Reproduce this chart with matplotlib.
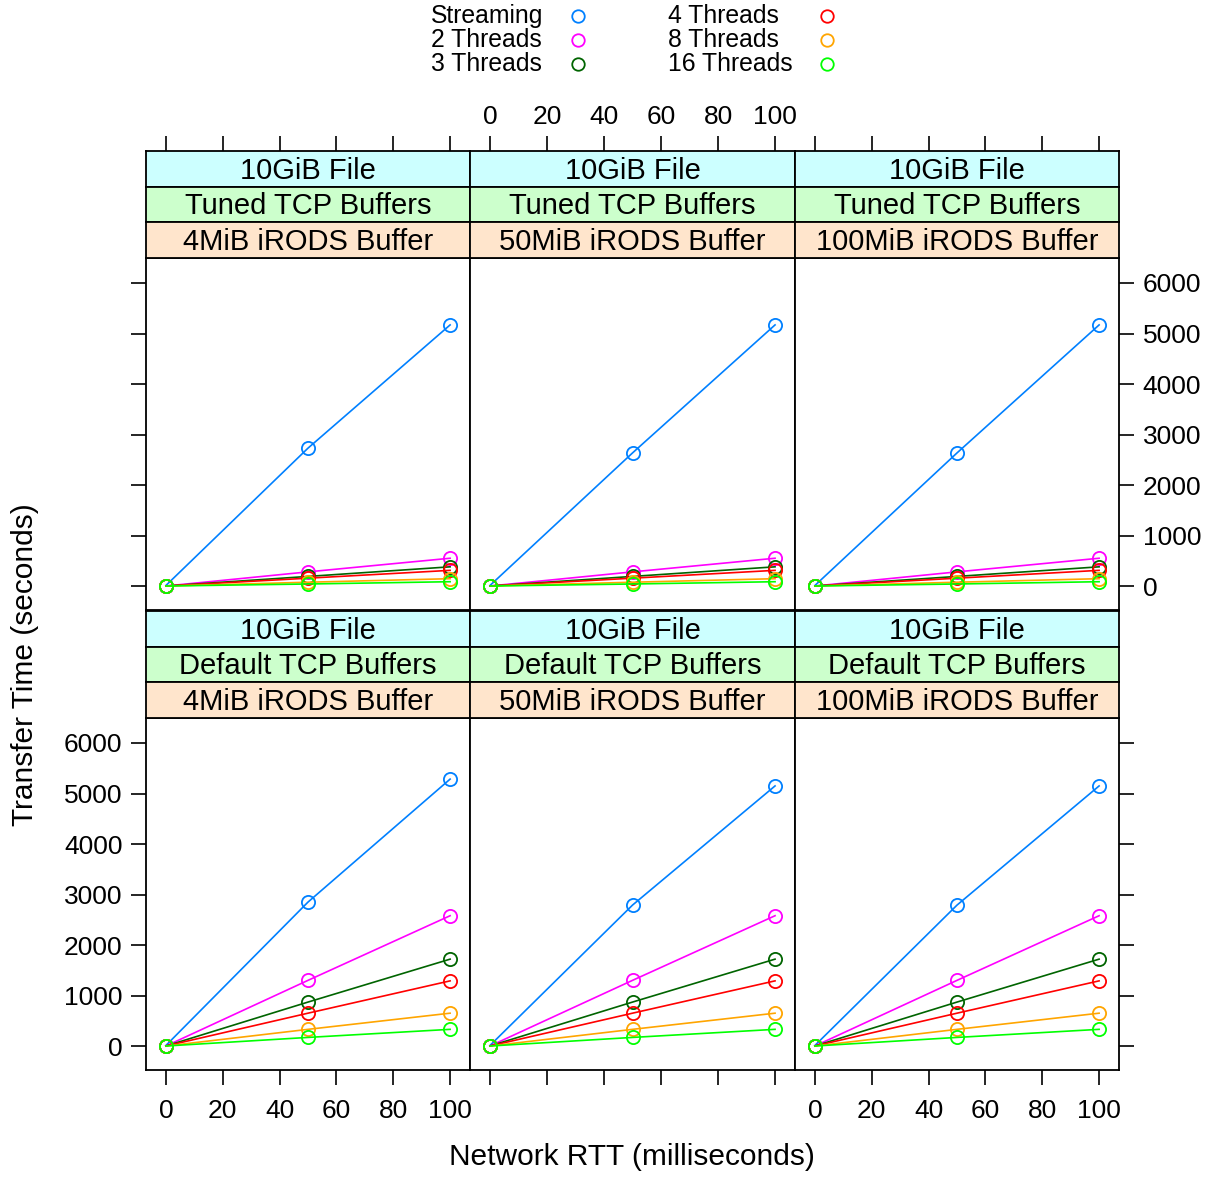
import numpy as np
import matplotlib.pyplot as plt
from matplotlib.lines import Line2D

plt.rcParams['font.family'] = ['Liberation Sans', 'DejaVu Sans']

rtt = [0, 50, 100]
series = ['Streaming', '2 Threads', '3 Threads', '4 Threads', '8 Threads', '16 Threads']
colors = ['#0080ff', '#ff00ff', '#006400', '#ff0000', '#ffa500', '#00ff00']

buffers = ['4MiB iRODS Buffer', '50MiB iRODS Buffer', '100MiB iRODS Buffer']

# tuned TCP buffers (top row), one list per iRODS buffer
tuned_streaming = [[10, 2730, 5170], [10, 2635, 5170], [10, 2635, 5170]]
tuned_2 = [0, 280, 550]
tuned_3 = [0, 190, 380]
tuned_4 = [0, 155, 310]
tuned_8 = [0, 75, 145]
tuned_16 = [0, 40, 85]

# default TCP buffers (bottom row)
default_streaming = [[10, 2850, 5285], [10, 2790, 5150], [10, 2790, 5150]]
default_2 = [0, 1300, 2580]
default_3 = [0, 870, 1720]
default_4 = [0, 650, 1290]
default_8 = [0, 330, 650]
default_16 = [0, 170, 330]

W, H = 1211, 1178
fig = plt.figure(figsize=(W / 100, H / 100), dpi=100)


def box(x0, y0, x1, y1):
    return [x0 / W, 1 - y1 / H, (x1 - x0) / W, (y1 - y0) / H]


cols = [(146, 470), (470, 795), (795, 1119)]
rows = [(151, 258, 610, 'Tuned TCP Buffers'), (611, 718, 1070, 'Default TCP Buffers')]
strip_cols = ['#ccffff', '#ccffcc', '#ffe5cc']
xlim = (-7, 107)
ylim = (-475, 6495)
fs = 19

for r, (s0, p0, p1, tcp) in enumerate(rows):
    sh = (p0 - s0) / 3
    for c, (x0, x1) in enumerate(cols):
        ax = fig.add_axes(box(x0, p0, x1, p1))
        if r == 0:
            data = [tuned_streaming[c], tuned_2, tuned_3, tuned_4, tuned_8, tuned_16]
        else:
            data = [default_streaming[c], default_2, default_3, default_4, default_8, default_16]
        for vals, col in zip(data, colors):
            ax.plot(rtt, vals, color=col, lw=1.2, marker='o', ms=9.5,
                    mfc='none', mec=col, mew=1.3, clip_on=False)
        ax.set_xlim(*xlim)
        ax.set_ylim(*ylim)
        for sp in ax.spines.values():
            sp.set_linewidth(1.3)
        ax.set_xticks([0, 20, 40, 60, 80, 100])
        ax.set_yticks(range(0, 7000, 1000))
        ax.tick_params(direction='out', length=11, width=1.2, labelsize=fs, pad=6,
                       top=False, bottom=(r == 1), left=(c == 0), right=(c == 2),
                       labelbottom=(r == 1 and c != 1), labelleft=(r == 1 and c == 0),
                       labelright=(r == 0 and c == 2), labeltop=False)
        ax.tick_params(axis='x', pad=10)

        labels = ['10GiB File', tcp, buffers[c]]
        for k in range(3):
            sa = fig.add_axes(box(x0, s0 + k * sh, x1, s0 + (k + 1) * sh))
            sa.set_facecolor(strip_cols[k])
            sa.set_xlim(*xlim)
            sa.set_yticks([])
            for sp in sa.spines.values():
                sp.set_linewidth(1.3)
            sa.text(0.5, 0.45, labels[k], transform=sa.transAxes, ha='center',
                    va='center', fontsize=21)
            if r == 0 and k == 0:
                sa.set_xticks([0, 20, 40, 60, 80, 100])
                sa.tick_params(direction='out', length=11, width=1.2, labelsize=fs,
                               pad=5, bottom=False, labelbottom=False, top=True,
                               labeltop=(c == 1))
            else:
                sa.set_xticks([])

fig.text(25 / W, 1 - 665 / H, 'Transfer Time (seconds)', rotation=90,
         ha='center', va='center', fontsize=21.5)
fig.text(632 / W, 1 - 1157 / H, 'Network RTT (milliseconds)',
         ha='center', va='center', fontsize=21.5)

# legend
leg_rows = [16, 40, 64]
for i, (name, col) in enumerate(zip(series, colors)):
    cx = 0 if i < 3 else 1
    y = 1 - leg_rows[i % 3] / H
    tx = [431, 668][cx]
    mx = [578, 827][cx]
    fig.text(tx / W, y, name, ha='left', va='center', fontsize=17.8)
    fig.add_artist(Line2D([mx / W], [y], marker='o', ms=9, mfc='none', mec=col,
                          mew=1.3, transform=fig.transFigure))

fig.savefig('out.png', dpi=100)
